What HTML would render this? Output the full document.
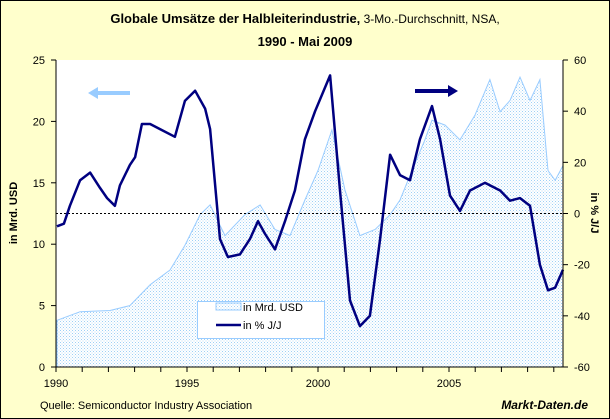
<!DOCTYPE html>
<html><head><meta charset="utf-8">
<style>
html,body{margin:0;padding:0;background:#fff}
svg{display:block;font-family:"Liberation Sans",Arial,sans-serif}
</style></head>
<body>
<svg id="chart" width="610" height="419" xmlns="http://www.w3.org/2000/svg">
<defs>
<pattern id="dots" width="3" height="3" patternUnits="userSpaceOnUse">
<rect width="3" height="3" fill="#ffffff"/>
<rect x="0" y="0" width="1" height="1" fill="#9fd0f5"/>
<rect x="1.5" y="1.5" width="1" height="1" fill="#b8dcf8"/>
</pattern>
</defs>
<rect x="0.5" y="0.5" width="609" height="418" fill="#ffffcc" stroke="#000"/>
<text x="305" y="23" text-anchor="middle" font-size="13"><tspan font-weight="bold">Globale Umsätze der Halbleiterindustrie,</tspan><tspan font-size="12"> 3-Mo.-Durchschnitt, NSA,</tspan></text>
<text x="305" y="46" text-anchor="middle" font-size="13" font-weight="bold">1990 - Mai 2009</text>
<rect x="56" y="60" width="507" height="307" fill="#ffffff"/>
<g id="marks"></g>
<g id="axes"></g>
<text transform="translate(17,213) rotate(-90)" text-anchor="middle" font-size="11" font-weight="bold">in Mrd. USD</text>
<text transform="translate(591,213) rotate(90)" text-anchor="middle" font-size="11" font-weight="bold">in % J/J</text>
<g><line x1="96" y1="93" x2="130" y2="93" stroke="#99ccff" stroke-width="4"/><polygon points="88,93 98,87 98,99" fill="#99ccff"/></g>
<g><line x1="415" y1="91" x2="449" y2="91" stroke="#000080" stroke-width="4"/><polygon points="458,91 448,85 448,97" fill="#000080"/></g>
<g>
<rect x="197.5" y="301.5" width="127" height="37" fill="#fff" stroke="#99ccff"/>
<rect x="216" y="303" width="25" height="7" fill="url(#dots)" stroke="#99ccff"/>
<text x="243" y="311" font-size="11">in Mrd. USD</text>
<line x1="216" y1="325" x2="241" y2="325" stroke="#000080" stroke-width="2.5"/>
<text x="243" y="329" font-size="11">in % J/J</text>
</g>
<text x="40" y="409" font-size="11">Quelle: Semiconductor Industry Association</text>
<text x="588" y="409" text-anchor="end" font-size="12" font-weight="bold" font-style="italic">Markt-Daten.de</text>
<rect x="0.5" y="0.5" width="609" height="418" fill="none" stroke="#000"/>
</svg>
<script>
const areaYears=[1990.04,1990.92,1992.06,1992.82,1993.59,1994.35,1994.92,1995.5,1995.88,1996.45,1997.21,1997.79,1998.36,1998.93,1999.5,2000.0,2000.53,2001.03,2001.6,2002.18,2002.75,2003.13,2003.51,2004.08,2004.35,2004.85,2005.42,2005.99,2006.56,2006.95,2007.33,2007.71,2008.09,2008.47,2008.78,2009.05,2009.35];
const salesUSD=[3.8,4.5,4.6,5.0,6.7,7.9,9.9,12.4,13.2,10.7,12.4,13.2,11.2,10.7,13.6,16.0,19.3,14.4,10.7,11.2,12.4,13.6,15.6,18.5,20.1,19.7,18.5,20.5,23.4,20.8,21.7,23.6,21.7,23.4,16.0,15.2,16.4];
const lineYears=[1990.04,1990.3,1990.53,1990.92,1991.3,1991.68,1991.95,1992.25,1992.44,1992.82,1993.02,1993.28,1993.59,1993.97,1994.54,1994.92,1995.31,1995.69,1995.88,1996.26,1996.56,1997.02,1997.4,1997.71,1997.98,1998.36,1998.74,1999.12,1999.5,1999.89,2000.46,2000.84,2001.22,2001.6,2001.98,2002.37,2002.75,2003.13,2003.51,2003.89,2004.35,2004.66,2005.04,2005.42,2005.8,2006.37,2006.95,2007.33,2007.71,2008.09,2008.47,2008.78,2009.05,2009.35];
const growthPct=[-5,-4,3,13,16,10,6,3,11,19,22,35,35,33,30,44,48,41,33,-10,-17,-16,-10,-3,-8,-14,-3,9,29,40,54,9,-34,-44,-40,-10,23,15,13,29,42,29,7,1,9,12,9,5,6,3,-20,-30,-29,-22];
const leftTicks=[0,5,10,15,20,25];
const rightTicks=[-60,-40,-20,0,20,40,60];
const xLabels=[1990,1995,2000,2005];
const X0=56,X1=563,Y0=367,Y1=60;
const xs=y=>X0+(y-1990)*26.2;
const yl=v=>Y0-(v/25)*(Y0-Y1);
const yr=v=>Y0-((v+60)/120)*(Y0-Y1);
const NS="http://www.w3.org/2000/svg";
function mk(tag,attrs,parent){const e=document.createElementNS(NS,tag);for(const k in attrs)e.setAttribute(k,attrs[k]);parent.appendChild(e);return e;}
const marks=document.getElementById('marks'),axes=document.getElementById('axes');
let d=`M${xs(areaYears[0])},${Y0}`;
areaYears.forEach((y,i)=>{d+=` L${xs(y).toFixed(1)},${yl(salesUSD[i]).toFixed(1)}`;});
d+=` L${xs(areaYears[areaYears.length-1])},${Y0} Z`;
const area=mk('path',{d:d,fill:'url(#dots)',stroke:'#99ccff','stroke-width':1},marks);


const zl=mk('line',{x1:X0,x2:X1,y1:yr(0),y2:yr(0),stroke:'#000','stroke-dasharray':'2,2','stroke-width':1},marks);


const pts=lineYears.map((y,i)=>xs(y).toFixed(1)+','+yr(growthPct[i]).toFixed(1)).join(' ');
const ln=mk('polyline',{points:pts,fill:'none',stroke:'#000080','stroke-width':2.5,'stroke-linejoin':'round'},marks);


mk('line',{x1:X0,x2:X0,y1:Y1,y2:Y0,stroke:'#000'},axes);
mk('line',{x1:X1,x2:X1,y1:Y1,y2:Y0,stroke:'#000'},axes);
mk('line',{x1:X0,x2:X1,y1:Y0,y2:Y0,stroke:'#000'},axes);
leftTicks.forEach(v=>{const y=yl(v);mk('line',{x1:X0-5,x2:X0,y1:y,y2:y,stroke:'#000'},axes);
const t=mk('text',{x:X0-11,y:y+4,'text-anchor':'end','font-size':11},axes);t.textContent=v;

});
rightTicks.forEach(v=>{const y=yr(v);mk('line',{x1:X1,x2:X1+5,y1:y,y2:y,stroke:'#000'},axes);
const t=mk('text',{x:X1+11,y:y+4,'font-size':11},axes);t.textContent=v;

});
for(let yr2=1990;yr2<=2009;yr2++){mk('line',{x1:xs(yr2),x2:xs(yr2),y1:Y0,y2:Y0+5,stroke:'#000'},axes);}
xLabels.forEach(v=>{const t=mk('text',{x:xs(v),y:Y0+20,'text-anchor':'middle','font-size':11},axes);t.textContent=v;

});
</script>
</body></html>
